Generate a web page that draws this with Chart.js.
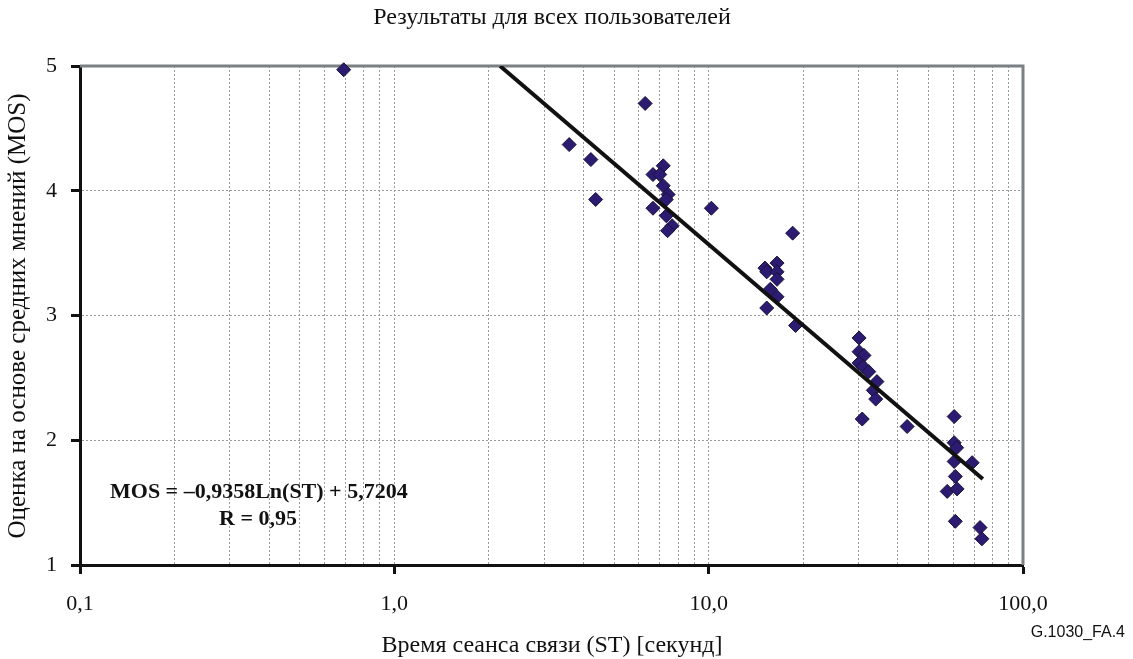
<!DOCTYPE html>
<html>
<head>
<meta charset="utf-8">
<script src="https://cdn.jsdelivr.net/npm/chart.js@4/dist/chart.umd.min.js"></script>
<style>
  html, body { margin: 0; padding: 0; background: #fff; }
  #wrap { width: 1133px; height: 659px; position: relative; }
</style>
</head>
<body>
<div id="wrap"><canvas id="grafico" width="1133" height="659"></canvas></div>
<script>
// Время сеанса связи (ST), секунд
const stValues = [0.69, 3.60, 4.22, 4.37, 6.28, 7.17, 6.65, 6.99, 7.17, 7.43, 7.33, 6.65, 7.33, 7.65, 7.40,
  10.2, 18.5, 15.1, 16.5, 15.3, 16.5, 16.5, 15.7, 16.5, 15.3, 18.9,
  30.1, 30.1, 31.2, 30.1, 31.0, 32.3, 34.3, 33.4, 34.0, 30.8, 42.8,
  60.4, 60.4, 61.5, 60.4, 68.9, 60.9, 57.4, 61.7, 60.9, 73.0, 74.0];
// Оценка MOS
const mosValues = [4.97, 4.37, 4.25, 3.93, 4.70, 4.20, 4.13, 4.13, 4.04, 3.97, 3.93, 3.86, 3.80, 3.72, 3.68,
  3.86, 3.66, 3.38, 3.42, 3.35, 3.35, 3.29, 3.21, 3.15, 3.06, 2.92,
  2.82, 2.71, 2.68, 2.62, 2.59, 2.55, 2.47, 2.40, 2.33, 2.17, 2.11,
  2.19, 1.98, 1.94, 1.83, 1.82, 1.71, 1.59, 1.61, 1.35, 1.30, 1.21];

// линия тренда (концы)
const trendX = [2.17, 74.5];
const trendY = [5.0, 1.69];

const xMajor = [0.1, 1, 10, 100];
const xMajorLabels = ['0,1', '1,0', '10,0', '100,0'];
const xMinor = [0.2, 0.3, 0.4, 0.5, 0.6, 0.7, 0.8, 0.9,
  2, 3, 4, 5, 6, 7, 8, 9,
  20, 30, 40, 50, 60, 70, 80, 90];
const yTicks = [1, 2, 3, 4, 5];

const titulo = 'Результаты для всех пользователей';
const tituloX = 'Время сеанса связи (ST) [секунд]';
const tituloY = 'Оценка на основе средних мнений (MOS)';
const equacao = 'MOS = –0,9358Ln(ST) + 5,7204';
const rTexto = 'R = 0,95';
const codigo = 'G.1030_FA.4';

const serif = "'Liberation Serif', 'DejaVu Serif', serif";
const gridCor = '#9a9a9a';

const pontos = stValues.map((x, i) => ({ x: x, y: mosValues[i] }));
const tendencia = trendX.map((x, i) => ({ x: x, y: trendY[i] }));

// bordas de cima e da direita + textos
const decor = {
  id: 'decor',
  beforeDatasetsDraw(chart) {
    const { ctx, chartArea: a } = chart;
    ctx.save();
    ctx.strokeStyle = '#7b8083';
    ctx.lineWidth = 3;
    ctx.beginPath();
    ctx.moveTo(a.left, a.top);
    ctx.lineTo(a.right, a.top);
    ctx.lineTo(a.right, a.bottom);
    ctx.stroke();
    ctx.restore();
  },
  afterDraw(chart) {
    const { ctx } = chart;
    ctx.save();
    ctx.fillStyle = '#111';
    ctx.textAlign = 'center';
    ctx.textBaseline = 'middle';
    ctx.font = '24px ' + serif;
    ctx.fillText(titulo, 552, 18);
    ctx.fillText(tituloX, 552, 646);

    ctx.save();
    ctx.translate(18, 316);
    ctx.rotate(-Math.PI / 2);
    ctx.font = '25px ' + serif;
    ctx.fillText(tituloY, 0, 0);
    ctx.restore();

    ctx.font = 'bold 22px ' + serif;
    ctx.textAlign = 'left';
    ctx.fillText(equacao, 110, 492);
    ctx.textAlign = 'center';
    ctx.fillText(rTexto, 258, 519);

    ctx.font = "16px 'Liberation Sans', Arial, sans-serif";
    ctx.textAlign = 'right';
    ctx.fillText(codigo, 1125, 633);
    ctx.restore();
  }
};

new Chart(document.getElementById('grafico'), {
  type: 'scatter',
  data: {
    datasets: [
      {
        type: 'line',
        data: tendencia,
        borderColor: '#111',
        borderWidth: 4,
        pointRadius: 0,
        fill: false,
        tension: 0
      },
      {
        data: pontos,
        pointStyle: 'rectRot',
        pointRadius: 7,
        backgroundColor: '#2c1b70',
        borderColor: '#16123a',
        borderWidth: 1,
        clip: false
      }
    ]
  },
  options: {
    responsive: false,
    animation: false,
    events: [],
    layout: { padding: { top: 66, right: 110, left: 0, bottom: 0 } },
    plugins: {
      legend: { display: false },
      tooltip: { enabled: false }
    },
    scales: {
      x: {
        type: 'logarithmic',
        min: 0.1,
        max: 100,
        afterBuildTicks: scale => {
          scale.ticks = xMajor.concat(xMinor).sort((a, b) => a - b).map(v => ({ value: v }));
        },
        afterFit: scale => { scale.height = 94; },
        ticks: {
          autoSkip: false,
          maxRotation: 0,
          padding: 17,
          color: '#111',
          font: { family: serif, size: 22 },
          callback: value => {
            const i = xMajor.indexOf(value);
            return i >= 0 ? xMajorLabels[i] : '';
          }
        },
        grid: {
          color: ctx => (ctx.tick && (ctx.tick.value === 0.1 || ctx.tick.value === 100)) ? 'rgba(0,0,0,0)' : gridCor,
          lineWidth: 1,
          tickLength: 9,
          tickWidth: 3,
          tickColor: ctx => (ctx.tick && xMajor.includes(ctx.tick.value)) ? '#111' : 'rgba(0,0,0,0)'
        },
        border: { display: true, color: '#111', width: 3, dash: [2, 2] }
      },
      y: {
        min: 1,
        max: 5,
        afterBuildTicks: scale => {
          scale.ticks = yTicks.map(v => ({ value: v }));
        },
        afterFit: scale => { scale.width = 80; },
        ticks: {
          padding: 14,
          color: '#111',
          font: { family: serif, size: 22 }
        },
        grid: {
          color: ctx => (ctx.tick && (ctx.tick.value === 1 || ctx.tick.value === 5)) ? 'rgba(0,0,0,0)' : gridCor,
          lineWidth: 1,
          tickLength: 9,
          tickWidth: 3,
          tickColor: '#111'
        },
        border: { display: true, color: '#111', width: 3, dash: [2, 2] }
      }
    }
  },
  plugins: [decor]
});
</script>
</body>
</html>
